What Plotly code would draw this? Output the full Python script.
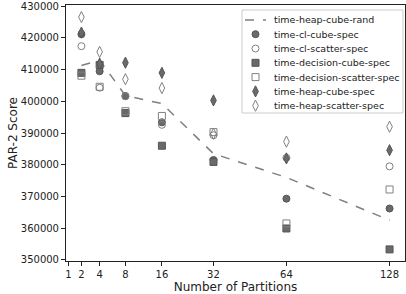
import math
import plotly.graph_objects as go

partitions = [2, 4, 8, 16, 32, 64, 128]
tick_values = [1, 2, 4, 8, 16, 32, 64, 128]
tick_labels = ["1", "2", "4", "8", "16", "32", "64", "128"]

heap_cube_rand = [411300, 413000, 401800, 399300, 383500, 376000, 362500]
cl_cube_spec = [421200, 409500, 401700, 393400, 381500, 369300, 366200]
cl_scatter_spec = [417400, 404300, 401600, 392600, 389300, 382200, 379500]
decision_cube_spec = [409000, 411500, 396300, 386000, 380900, 359900, 353300]
decision_scatter_spec = [408100, 404600, 396900, 395400, 390300, 361500, 372200]
heap_cube_spec = [421700, 411900, 412200, 409000, 400300, 382000, 384600]
heap_scatter_spec = [426600, 415600, 407000, 404200, 389800, 387300, 392000]

y_ticks = [350000, 360000, 370000, 380000, 390000, 400000, 410000, 420000, 430000]

legend_names = ["time-heap-cube-rand", "time-cl-cube-spec", "time-cl-scatter-spec",
                "time-decision-cube-spec", "time-decision-scatter-spec",
                "time-heap-cube-spec", "time-heap-scatter-spec"]

# square-root x scale
xs = [math.sqrt(p) for p in partitions]

LINE_COLOR = "#7f7f7f"
FILL = "#6a6a6a"
OPEN = "#808080"
EDGE = "#555555"

fig = go.Figure()
fig.add_trace(go.Scatter(x=xs, y=heap_cube_rand, mode="lines", name=legend_names[0],
                         line=dict(color=LINE_COLOR, width=1.5, dash="dash"),
                         showlegend=False))

series = [
    (cl_cube_spec, "circle"),
    (cl_scatter_spec, "circle-open"),
    (decision_cube_spec, "square"),
    (decision_scatter_spec, "square-open"),
    (heap_cube_spec, "diamond-tall"),
    (heap_scatter_spec, "diamond-tall-open"),
]

def marker_style(sym):
    filled = not sym.endswith("open")
    size = 8 if "diamond" in sym else 7
    return dict(symbol=sym, size=size, color=FILL if filled else OPEN,
                line=dict(color=EDGE, width=1))

for (vals, sym), name in zip(series, legend_names[1:]):
    fig.add_trace(go.Scatter(x=xs, y=vals, mode="markers", name=name,
                             marker=marker_style(sym), showlegend=False))

# ---- legend drawn in a pixel-space overlay axis (x2/y2) ----
leg_left, leg_right, leg_top, leg_bottom = 242, 403, 10, 113
row0, row_gap = 19.9, 14.3
handle_x0, handle_x1, text_x = 245, 266, 272
rows = [row0 + row_gap * i for i in range(len(legend_names))]

fig.add_trace(go.Scatter(x=[leg_left, leg_right, leg_right, leg_left, leg_left],
                         y=[leg_top, leg_top, leg_bottom, leg_bottom, leg_top],
                         mode="lines", fill="toself", fillcolor="rgba(255,255,255,0.85)",
                         line=dict(color="#cccccc", width=1),
                         xaxis="x2", yaxis="y2", showlegend=False, hoverinfo="skip"))
fig.add_trace(go.Scatter(x=[handle_x0, handle_x1], y=[rows[0], rows[0]], mode="lines",
                         xaxis="x2", yaxis="y2", showlegend=False, hoverinfo="skip",
                         line=dict(color=LINE_COLOR, width=1.5, dash="dash")))
for i, (vals, sym) in enumerate(series):
    fig.add_trace(go.Scatter(x=[(handle_x0 + handle_x1) / 2], y=[rows[i + 1]], mode="markers",
                             xaxis="x2", yaxis="y2", showlegend=False, hoverinfo="skip",
                             marker=marker_style(sym)))
for name, ry in zip(legend_names, rows):
    fig.add_annotation(x=text_x, y=ry, xref="x2", yref="y2", text=name, showarrow=False,
                       xanchor="left", yanchor="middle", font=dict(size=9.5, color="#222"))

fig.update_layout(
    width=406, height=294,
    margin=dict(l=66, r=1, t=5, b=33),
    paper_bgcolor="white", plot_bgcolor="white",
    font=dict(family="DejaVu Sans", size=10, color="#222"),
    showlegend=False,
    xaxis=dict(range=[0.919, 11.81], tickmode="array",
               tickvals=[math.sqrt(v) for v in tick_values], ticktext=tick_labels,
               tickangle=0,
               showgrid=False, zeroline=False, showline=True, linecolor="#222", mirror=True,
               ticks="outside", ticklen=4, tickcolor="#222",
               title=dict(text="Number of Partitions", standoff=3)),
    yaxis=dict(range=[349640, 430400], tickmode="array",
               tickvals=y_ticks, ticktext=[str(v) for v in y_ticks],
               showgrid=False, zeroline=False, showline=True, linecolor="#222", mirror=True,
               ticks="outside", ticklen=4, tickcolor="#222",
               title=dict(text="PAR-2 Score", standoff=0)),
    xaxis2=dict(overlaying="x", range=[66, 405], visible=False, anchor="y2"),
    yaxis2=dict(overlaying="y", range=[261, 5], visible=False, anchor="x2"),
)

fig.write_html("out.html", config={"displayModeBar": False},
               post_script="document.body.style.margin='0';")
